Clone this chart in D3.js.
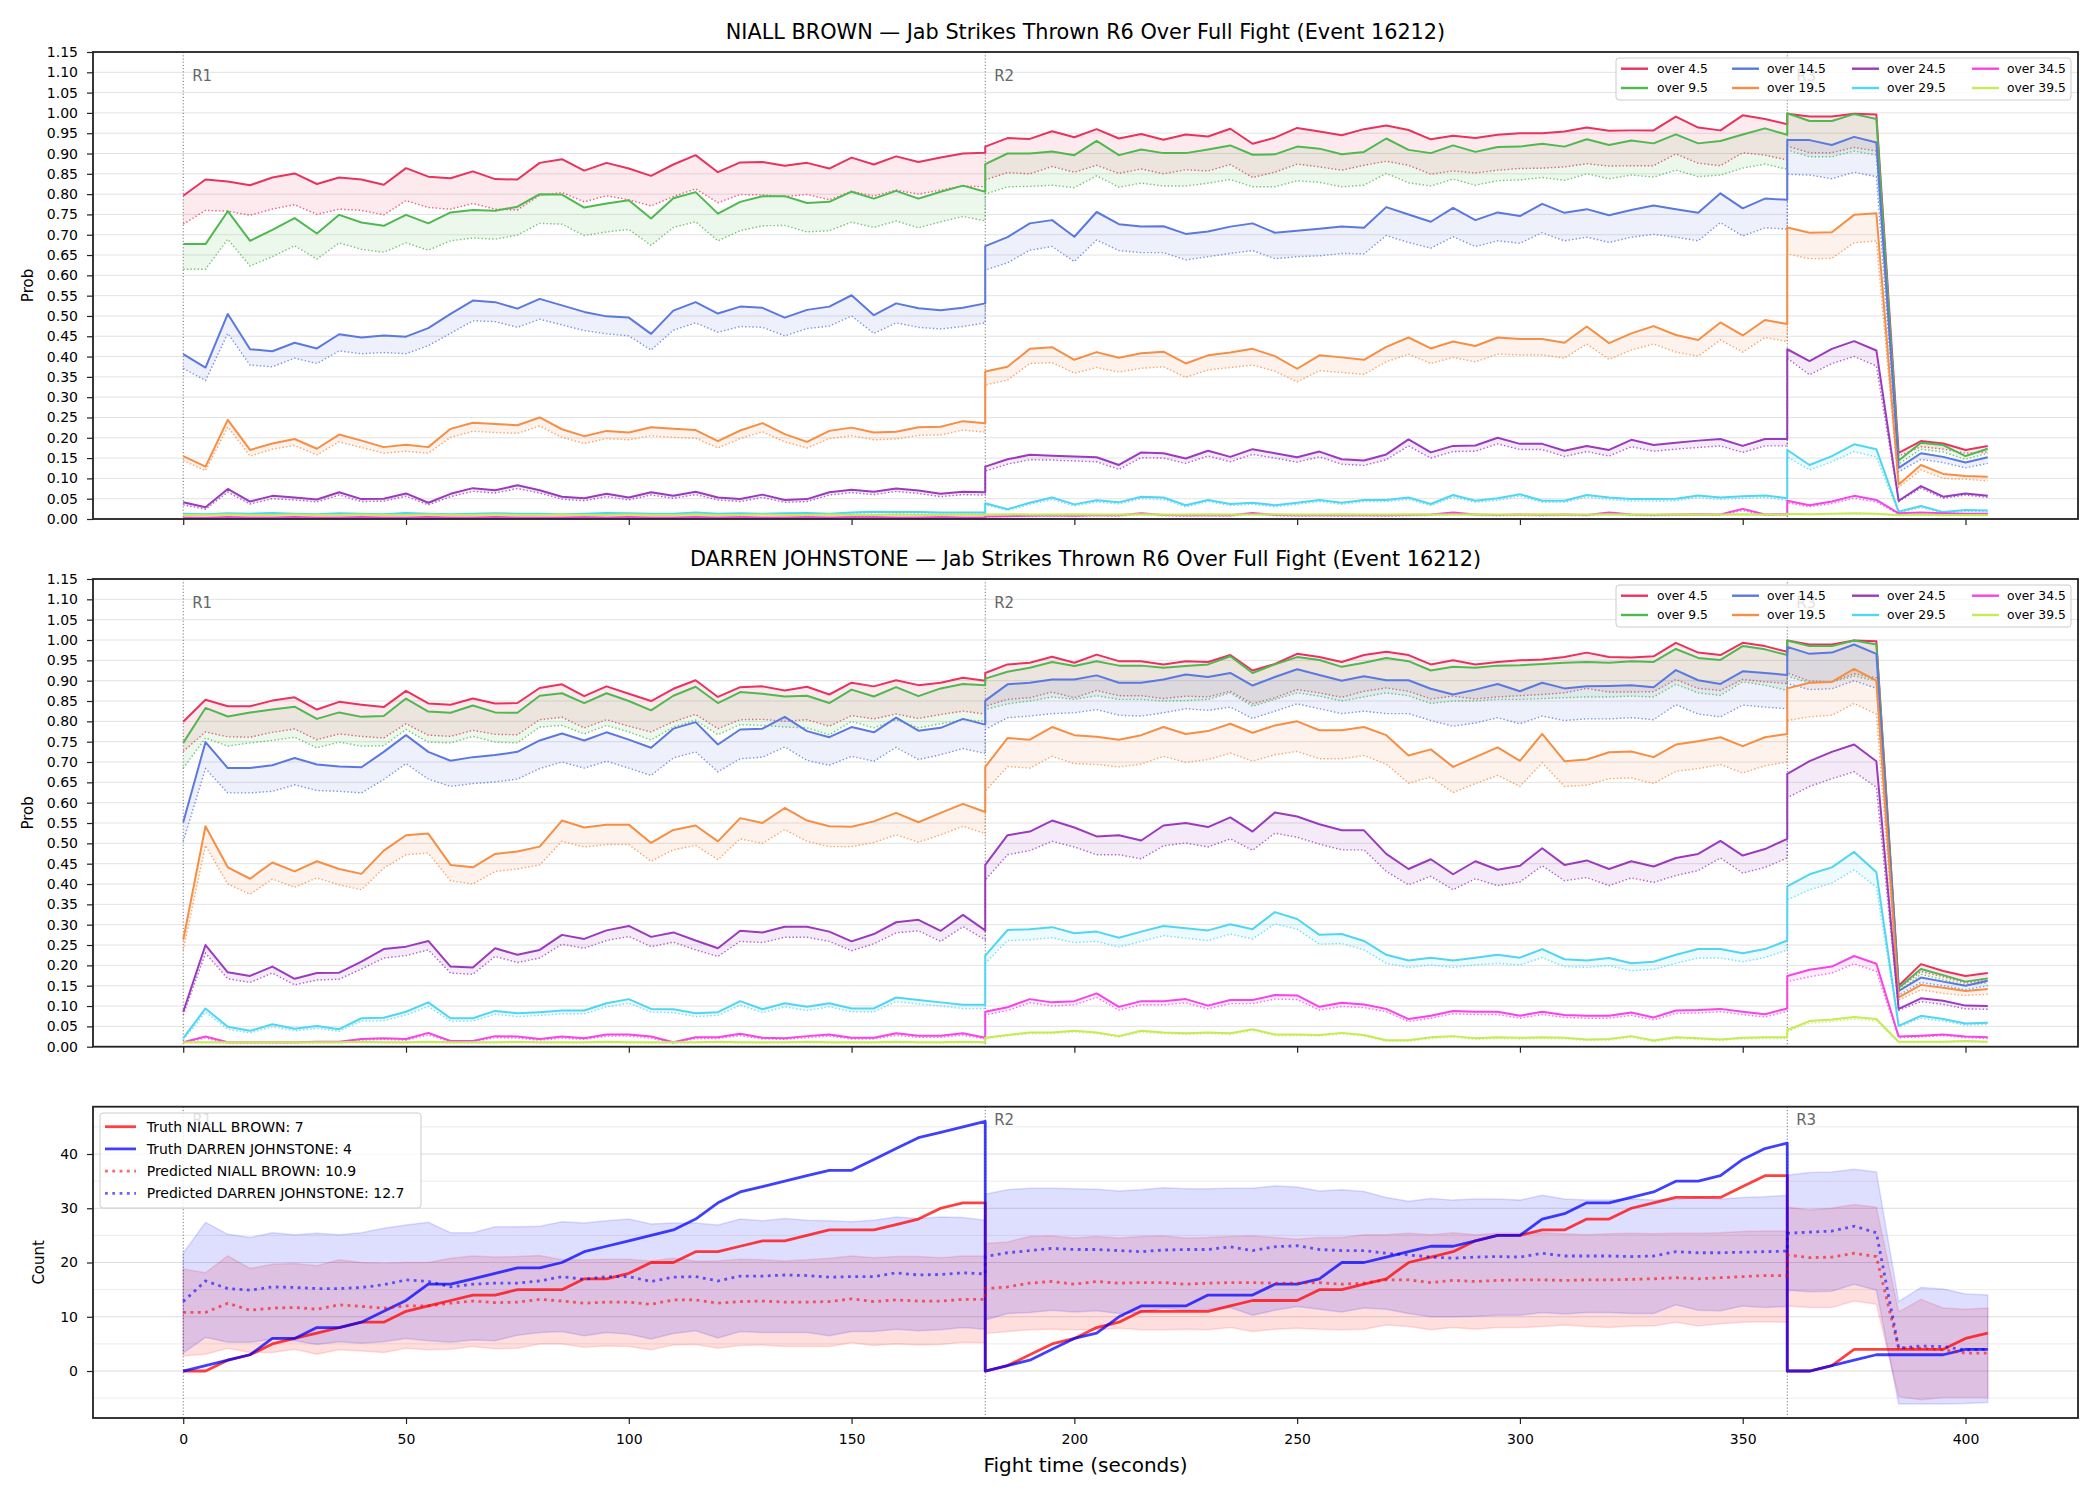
<!DOCTYPE html>
<html>
<head>
<meta charset="utf-8">
<script src="https://cdn.jsdelivr.net/npm/d3@7/dist/d3.min.js"></script>
<style>
  body { margin: 0; background: #fff; }
  svg { display: block; font-family: "DejaVu Sans", sans-serif; }
</style>
</head>
<body>
<svg id="chart" width="2100" height="1500"></svg>
<script>
// time stamps (seconds); round boundaries appear twice (end of one round, start of the next)
const TIME = [
  0,5,10,15,20,25,30,35,40,45,50,55,60,65,70,75,80,85,90,95,100,105,110,115,120,125,130,135,140,145,150,155,160,165,170,175,180,
  180,185,190,195,200,205,210,215,220,225,230,235,240,245,250,255,260,265,270,275,280,285,290,295,300,305,310,315,320,325,330,335,340,345,350,355,360,
  360,365,370,375,380,385,390,395,400,405
];
const ROUND_STARTS = [0, 180, 360];
const ROUND_LABELS = ["R1", "R2", "R3"];
const X_TICKS = [0, 50, 100, 150, 200, 250, 300, 350, 400];
const PROB_TICKS = [0, 0.05, 0.1, 0.15, 0.2, 0.25, 0.3, 0.35, 0.4, 0.45, 0.5, 0.55, 0.6, 0.65, 0.7, 0.75, 0.8, 0.85, 0.9, 0.95, 1.0, 1.05, 1.1, 1.15];
const COUNT_TICKS = [0, 10, 20, 30, 40];
const COUNT_GRID = [-5, 0, 5, 10, 15, 20, 25, 30, 35, 40, 45];

const THRESHOLDS = ["over 4.5", "over 9.5", "over 14.5", "over 19.5", "over 24.5", "over 29.5", "over 34.5", "over 39.5"];
const COLORS = ["#e8335e", "#4fb84f", "#5a78e0", "#f68e44", "#9a3bbd", "#50d6f2", "#f545e6", "#c5eb57"];

// ---- NIALL BROWN: solid = probability, _LO = dotted companion ----
const NB_45 = [
  0.796,0.836,0.831,0.822,0.841,0.851,0.825,0.841,0.836,0.823,0.864,0.843,0.839,0.856,0.837,0.836,0.877,0.886,0.858,0.877,0.863,0.845,0.873,0.896,0.854,0.878,0.879,0.870,0.877,0.863,0.890,0.873,0.893,0.879,0.890,0.900,0.902,
  0.917,0.938,0.936,0.955,0.940,0.960,0.937,0.948,0.934,0.947,0.942,0.961,0.924,0.939,0.963,0.954,0.945,0.960,0.969,0.958,0.935,0.944,0.938,0.946,0.950,0.950,0.954,0.964,0.956,0.957,0.957,0.991,0.964,0.957,0.994,0.985,0.972,
  0.998,0.991,0.991,0.998,0.996,0.163,0.192,0.186,0.170,0.180];
const NB_45_LO = [
  0.726,0.760,0.758,0.748,0.763,0.774,0.750,0.763,0.760,0.749,0.784,0.767,0.763,0.777,0.763,0.761,0.797,0.804,0.781,0.796,0.786,0.771,0.794,0.813,0.779,0.799,0.798,0.794,0.799,0.786,0.807,0.795,0.810,0.800,0.810,0.820,0.818,
  0.835,0.853,0.850,0.868,0.854,0.871,0.851,0.862,0.850,0.860,0.857,0.873,0.841,0.854,0.874,0.867,0.859,0.871,0.881,0.871,0.849,0.857,0.852,0.859,0.863,0.864,0.867,0.875,0.869,0.870,0.870,0.899,0.876,0.870,0.902,0.896,0.884,
  0.918,0.902,0.902,0.915,0.906,0.155,0.178,0.172,0.162,0.165];
const NB_95 = [
  0.677,0.677,0.758,0.685,0.712,0.741,0.703,0.749,0.730,0.722,0.749,0.728,0.755,0.761,0.759,0.769,0.800,0.799,0.767,0.777,0.785,0.740,0.790,0.805,0.752,0.781,0.795,0.795,0.778,0.781,0.806,0.789,0.808,0.789,0.806,0.821,0.806,
  0.874,0.900,0.900,0.905,0.896,0.931,0.896,0.910,0.901,0.901,0.910,0.920,0.897,0.898,0.917,0.912,0.898,0.904,0.937,0.909,0.901,0.920,0.904,0.916,0.917,0.924,0.917,0.935,0.921,0.932,0.925,0.947,0.925,0.931,0.947,0.962,0.946,
  0.999,0.980,0.980,0.997,0.985,0.144,0.188,0.182,0.155,0.173];
const NB_95_LO = [
  0.615,0.615,0.689,0.623,0.646,0.673,0.640,0.680,0.664,0.657,0.680,0.662,0.685,0.692,0.689,0.699,0.728,0.726,0.698,0.707,0.713,0.674,0.718,0.732,0.685,0.710,0.722,0.723,0.707,0.710,0.731,0.718,0.734,0.717,0.732,0.745,0.734,
  0.800,0.818,0.819,0.822,0.816,0.845,0.817,0.827,0.820,0.820,0.827,0.836,0.818,0.818,0.833,0.829,0.818,0.822,0.851,0.828,0.820,0.837,0.822,0.833,0.835,0.841,0.834,0.850,0.838,0.847,0.842,0.859,0.843,0.847,0.864,0.874,0.861,
  0.909,0.892,0.892,0.906,0.896,0.135,0.172,0.165,0.147,0.162];
const NB_145 = [
  0.406,0.373,0.505,0.418,0.413,0.434,0.420,0.455,0.447,0.452,0.449,0.470,0.505,0.538,0.534,0.518,0.542,0.526,0.510,0.499,0.496,0.456,0.513,0.534,0.506,0.523,0.520,0.496,0.515,0.523,0.551,0.502,0.531,0.519,0.514,0.520,0.531,
  0.672,0.694,0.728,0.736,0.695,0.756,0.726,0.720,0.721,0.702,0.708,0.720,0.728,0.705,0.710,0.715,0.720,0.717,0.768,0.750,0.732,0.766,0.736,0.755,0.746,0.776,0.754,0.763,0.748,0.761,0.772,0.763,0.754,0.802,0.765,0.789,0.786,
  0.933,0.933,0.921,0.941,0.927,0.126,0.162,0.153,0.139,0.152];
const NB_145_LO = [
  0.371,0.341,0.457,0.379,0.375,0.396,0.383,0.414,0.407,0.410,0.407,0.427,0.457,0.488,0.486,0.472,0.492,0.478,0.464,0.456,0.451,0.416,0.465,0.483,0.460,0.474,0.472,0.451,0.469,0.475,0.500,0.457,0.483,0.472,0.468,0.474,0.483,
  0.613,0.631,0.662,0.671,0.634,0.687,0.661,0.656,0.656,0.638,0.646,0.654,0.661,0.641,0.646,0.648,0.654,0.653,0.698,0.681,0.667,0.695,0.671,0.685,0.679,0.705,0.685,0.694,0.681,0.694,0.701,0.694,0.685,0.730,0.697,0.717,0.714,
  0.849,0.847,0.838,0.854,0.843,0.116,0.147,0.139,0.126,0.137];
const NB_195 = [
  0.155,0.129,0.244,0.170,0.186,0.197,0.173,0.208,0.193,0.177,0.183,0.177,0.222,0.237,0.234,0.231,0.250,0.221,0.204,0.217,0.213,0.226,0.222,0.219,0.192,0.218,0.236,0.209,0.190,0.217,0.225,0.213,0.215,0.226,0.227,0.241,0.236,
  0.363,0.375,0.419,0.423,0.392,0.411,0.397,0.408,0.412,0.383,0.403,0.410,0.419,0.401,0.370,0.403,0.398,0.392,0.424,0.447,0.420,0.437,0.426,0.447,0.443,0.443,0.434,0.474,0.433,0.457,0.475,0.453,0.441,0.484,0.452,0.490,0.480,
  0.718,0.705,0.706,0.749,0.753,0.085,0.133,0.111,0.106,0.104];
const NB_195_LO = [
  0.144,0.119,0.227,0.155,0.172,0.181,0.158,0.190,0.176,0.162,0.167,0.162,0.201,0.216,0.213,0.211,0.229,0.201,0.186,0.198,0.195,0.205,0.201,0.199,0.175,0.198,0.215,0.190,0.175,0.198,0.205,0.195,0.197,0.206,0.207,0.219,0.214,
  0.330,0.342,0.383,0.385,0.359,0.373,0.362,0.371,0.375,0.349,0.367,0.373,0.379,0.364,0.338,0.365,0.361,0.356,0.387,0.406,0.383,0.398,0.387,0.406,0.404,0.404,0.396,0.431,0.393,0.416,0.431,0.411,0.401,0.441,0.411,0.447,0.437,
  0.653,0.641,0.642,0.680,0.685,0.078,0.121,0.100,0.098,0.094];
const NB_245 = [
  0.041,0.029,0.074,0.043,0.057,0.053,0.048,0.066,0.049,0.050,0.063,0.040,0.062,0.076,0.071,0.083,0.071,0.055,0.051,0.062,0.053,0.066,0.057,0.067,0.053,0.049,0.060,0.047,0.049,0.066,0.072,0.067,0.075,0.070,0.062,0.067,0.066,
  0.129,0.147,0.158,0.156,0.154,0.152,0.133,0.164,0.162,0.149,0.168,0.153,0.172,0.162,0.152,0.166,0.147,0.144,0.159,0.196,0.164,0.180,0.181,0.200,0.185,0.185,0.168,0.180,0.170,0.195,0.182,0.188,0.193,0.197,0.180,0.197,0.197,
  0.418,0.389,0.419,0.438,0.415,0.045,0.081,0.055,0.063,0.057];
const NB_245_LO = [
  0.035,0.024,0.066,0.037,0.050,0.047,0.042,0.059,0.043,0.044,0.056,0.035,0.055,0.068,0.064,0.075,0.064,0.049,0.045,0.055,0.047,0.059,0.051,0.060,0.047,0.043,0.053,0.041,0.043,0.059,0.065,0.060,0.068,0.063,0.055,0.060,0.059,
  0.118,0.135,0.146,0.145,0.143,0.141,0.122,0.151,0.150,0.137,0.155,0.141,0.159,0.150,0.140,0.153,0.135,0.132,0.146,0.180,0.150,0.166,0.167,0.185,0.171,0.171,0.154,0.166,0.155,0.178,0.167,0.172,0.176,0.180,0.164,0.180,0.180,
  0.396,0.355,0.383,0.400,0.377,0.043,0.076,0.051,0.059,0.053];
const NB_295 = [
  0.013,0.012,0.014,0.013,0.015,0.013,0.012,0.014,0.013,0.012,0.015,0.013,0.012,0.013,0.014,0.013,0.013,0.012,0.013,0.015,0.014,0.013,0.013,0.016,0.013,0.014,0.013,0.014,0.015,0.013,0.016,0.018,0.017,0.017,0.016,0.016,0.016,
  0.039,0.024,0.040,0.053,0.036,0.046,0.041,0.055,0.053,0.034,0.047,0.037,0.040,0.034,0.040,0.047,0.040,0.047,0.047,0.053,0.037,0.059,0.045,0.051,0.061,0.045,0.045,0.059,0.053,0.049,0.049,0.050,0.058,0.053,0.056,0.058,0.051,
  0.170,0.133,0.155,0.184,0.172,0.018,0.032,0.017,0.022,0.021];
const NB_295_LO = [
  0.011,0.010,0.012,0.011,0.012,0.011,0.010,0.012,0.011,0.010,0.012,0.011,0.010,0.011,0.012,0.011,0.011,0.010,0.011,0.012,0.012,0.011,0.011,0.013,0.011,0.012,0.011,0.012,0.012,0.011,0.013,0.015,0.014,0.014,0.013,0.013,0.013,
  0.035,0.021,0.036,0.048,0.032,0.042,0.037,0.050,0.048,0.030,0.043,0.033,0.036,0.030,0.036,0.043,0.036,0.043,0.043,0.048,0.033,0.054,0.041,0.046,0.056,0.041,0.041,0.054,0.048,0.044,0.044,0.045,0.053,0.048,0.051,0.053,0.046,
  0.153,0.121,0.141,0.166,0.153,0.015,0.028,0.015,0.019,0.018];
const NB_345 = [
  0.004,0.003,0.005,0.004,0.004,0.005,0.004,0.004,0.005,0.004,0.004,0.005,0.004,0.004,0.005,0.004,0.004,0.004,0.005,0.004,0.005,0.004,0.004,0.005,0.004,0.005,0.004,0.004,0.005,0.004,0.005,0.005,0.004,0.004,0.005,0.004,0.004,
  0.006,0.007,0.008,0.009,0.008,0.010,0.009,0.014,0.010,0.009,0.010,0.009,0.015,0.010,0.009,0.010,0.009,0.010,0.009,0.010,0.011,0.016,0.011,0.010,0.011,0.010,0.011,0.010,0.016,0.011,0.010,0.011,0.012,0.011,0.025,0.011,0.012,
  0.045,0.034,0.043,0.057,0.047,0.014,0.016,0.014,0.013,0.013];
const NB_345_LO = [
  0.003,0.002,0.004,0.003,0.003,0.004,0.003,0.003,0.004,0.003,0.003,0.004,0.003,0.003,0.004,0.003,0.003,0.003,0.004,0.003,0.004,0.003,0.003,0.004,0.003,0.004,0.003,0.003,0.004,0.003,0.004,0.004,0.003,0.003,0.004,0.003,0.003,
  0.005,0.006,0.006,0.007,0.006,0.008,0.007,0.011,0.008,0.007,0.008,0.007,0.012,0.008,0.007,0.008,0.007,0.008,0.007,0.008,0.009,0.013,0.009,0.008,0.009,0.008,0.009,0.008,0.013,0.009,0.008,0.009,0.010,0.009,0.021,0.009,0.010,
  0.040,0.030,0.038,0.051,0.042,0.012,0.014,0.012,0.011,0.011];
const NB_395 = [
  0.010,0.010,0.011,0.010,0.010,0.011,0.010,0.010,0.011,0.010,0.010,0.011,0.010,0.010,0.011,0.010,0.010,0.011,0.010,0.010,0.011,0.010,0.010,0.011,0.010,0.010,0.011,0.010,0.010,0.011,0.010,0.010,0.011,0.010,0.010,0.011,0.010,
  0.011,0.012,0.011,0.011,0.012,0.011,0.011,0.012,0.011,0.011,0.012,0.011,0.011,0.012,0.011,0.011,0.012,0.011,0.011,0.012,0.011,0.011,0.012,0.011,0.011,0.012,0.011,0.011,0.012,0.011,0.011,0.012,0.011,0.011,0.012,0.011,0.011,
  0.013,0.012,0.013,0.014,0.013,0.010,0.011,0.010,0.010,0.010];
const NB_395_LO = [
  0.008,0.008,0.009,0.008,0.008,0.009,0.008,0.008,0.009,0.008,0.008,0.009,0.008,0.008,0.009,0.008,0.008,0.009,0.008,0.008,0.009,0.008,0.008,0.009,0.008,0.008,0.009,0.008,0.008,0.009,0.008,0.008,0.009,0.008,0.008,0.009,0.008,
  0.009,0.010,0.009,0.009,0.010,0.009,0.009,0.010,0.009,0.009,0.010,0.009,0.009,0.010,0.009,0.009,0.010,0.009,0.009,0.010,0.009,0.009,0.010,0.009,0.009,0.010,0.009,0.009,0.010,0.009,0.009,0.010,0.009,0.009,0.010,0.009,0.009,
  0.011,0.010,0.011,0.012,0.011,0.008,0.009,0.008,0.008,0.008];

// ---- DARREN JOHNSTONE ----
const DJ_45 = [
  0.799,0.853,0.837,0.837,0.851,0.859,0.829,0.848,0.841,0.835,0.875,0.844,0.841,0.856,0.844,0.845,0.882,0.891,0.862,0.886,0.868,0.850,0.880,0.901,0.860,0.884,0.886,0.876,0.885,0.866,0.895,0.886,0.901,0.889,0.895,0.907,0.900,
  0.919,0.940,0.944,0.959,0.944,0.964,0.948,0.948,0.940,0.948,0.946,0.963,0.925,0.941,0.966,0.958,0.946,0.963,0.971,0.963,0.940,0.950,0.940,0.946,0.950,0.952,0.958,0.969,0.958,0.957,0.960,0.993,0.969,0.963,0.993,0.985,0.971,
  0.999,0.989,0.989,0.999,0.997,0.150,0.203,0.186,0.174,0.181];
const DJ_45_LO = [
  0.726,0.774,0.762,0.761,0.773,0.781,0.755,0.769,0.763,0.759,0.794,0.766,0.763,0.778,0.768,0.767,0.804,0.810,0.784,0.804,0.788,0.774,0.799,0.817,0.782,0.804,0.805,0.800,0.804,0.788,0.814,0.806,0.818,0.807,0.817,0.825,0.818,
  0.837,0.854,0.858,0.872,0.858,0.876,0.863,0.863,0.856,0.862,0.860,0.874,0.843,0.858,0.878,0.870,0.859,0.874,0.882,0.874,0.855,0.862,0.855,0.860,0.863,0.866,0.870,0.881,0.872,0.872,0.873,0.903,0.881,0.876,0.903,0.897,0.893,
  0.919,0.899,0.897,0.917,0.907,0.142,0.185,0.172,0.156,0.164];
const DJ_95 = [
  0.747,0.833,0.812,0.822,0.829,0.836,0.806,0.822,0.811,0.813,0.856,0.824,0.821,0.839,0.822,0.821,0.863,0.869,0.845,0.869,0.850,0.827,0.863,0.885,0.845,0.872,0.868,0.861,0.863,0.845,0.878,0.861,0.884,0.862,0.881,0.892,0.889,
  0.905,0.922,0.932,0.946,0.936,0.948,0.937,0.937,0.932,0.936,0.940,0.960,0.919,0.940,0.958,0.951,0.934,0.944,0.956,0.948,0.925,0.934,0.932,0.937,0.938,0.941,0.944,0.946,0.944,0.948,0.946,0.978,0.956,0.951,0.985,0.977,0.963,
  0.999,0.985,0.985,0.999,0.989,0.145,0.191,0.176,0.160,0.168];
const DJ_95_LO = [
  0.685,0.759,0.739,0.747,0.753,0.761,0.735,0.749,0.739,0.740,0.780,0.749,0.747,0.763,0.749,0.747,0.786,0.790,0.769,0.790,0.774,0.754,0.786,0.803,0.767,0.792,0.790,0.786,0.784,0.767,0.800,0.784,0.804,0.784,0.794,0.804,0.800,
  0.829,0.843,0.850,0.860,0.854,0.863,0.854,0.854,0.850,0.851,0.854,0.870,0.837,0.854,0.870,0.862,0.850,0.860,0.870,0.863,0.844,0.850,0.850,0.854,0.854,0.856,0.858,0.860,0.860,0.862,0.860,0.891,0.870,0.864,0.897,0.889,0.876,
  0.911,0.895,0.897,0.911,0.900,0.135,0.178,0.165,0.150,0.158];
const DJ_145 = [
  0.552,0.749,0.685,0.685,0.692,0.710,0.694,0.689,0.687,0.725,0.766,0.725,0.703,0.712,0.717,0.725,0.753,0.770,0.753,0.773,0.755,0.735,0.782,0.798,0.743,0.780,0.782,0.811,0.776,0.761,0.786,0.773,0.809,0.777,0.784,0.806,0.792,
  0.851,0.891,0.895,0.903,0.903,0.913,0.895,0.895,0.903,0.915,0.909,0.919,0.888,0.909,0.928,0.914,0.900,0.911,0.901,0.901,0.880,0.866,0.878,0.892,0.874,0.895,0.881,0.886,0.887,0.889,0.884,0.926,0.901,0.892,0.923,0.919,0.914,
  0.983,0.966,0.969,0.989,0.966,0.137,0.170,0.160,0.150,0.162];
const DJ_145_LO = [
  0.505,0.684,0.624,0.624,0.628,0.644,0.630,0.628,0.624,0.657,0.696,0.658,0.640,0.647,0.651,0.658,0.684,0.700,0.685,0.702,0.685,0.667,0.710,0.725,0.676,0.708,0.712,0.737,0.704,0.692,0.714,0.702,0.736,0.706,0.718,0.733,0.721,
  0.780,0.809,0.813,0.819,0.821,0.829,0.815,0.813,0.821,0.831,0.827,0.835,0.807,0.825,0.843,0.831,0.819,0.825,0.819,0.819,0.802,0.788,0.796,0.809,0.794,0.813,0.802,0.806,0.806,0.809,0.804,0.841,0.818,0.811,0.840,0.835,0.831,
  0.893,0.878,0.880,0.900,0.881,0.127,0.158,0.150,0.140,0.150];
const DJ_195 = [
  0.263,0.542,0.441,0.413,0.453,0.431,0.456,0.437,0.425,0.482,0.520,0.524,0.447,0.441,0.474,0.480,0.492,0.556,0.539,0.546,0.546,0.501,0.533,0.544,0.505,0.562,0.550,0.587,0.556,0.542,0.541,0.554,0.575,0.552,0.575,0.597,0.577,
  0.688,0.759,0.755,0.786,0.766,0.762,0.755,0.766,0.786,0.769,0.776,0.794,0.772,0.790,0.800,0.778,0.778,0.786,0.766,0.716,0.731,0.688,0.712,0.736,0.703,0.769,0.702,0.706,0.724,0.726,0.712,0.743,0.751,0.761,0.739,0.761,0.769,
  0.881,0.895,0.897,0.929,0.900,0.121,0.152,0.145,0.137,0.142];
const DJ_195_LO = [
  0.238,0.495,0.400,0.375,0.412,0.392,0.415,0.398,0.386,0.439,0.472,0.476,0.408,0.400,0.431,0.437,0.447,0.505,0.491,0.497,0.497,0.456,0.484,0.495,0.460,0.511,0.500,0.534,0.505,0.492,0.492,0.502,0.521,0.503,0.521,0.542,0.524,
  0.628,0.689,0.685,0.714,0.696,0.694,0.688,0.695,0.714,0.699,0.706,0.722,0.702,0.718,0.726,0.708,0.708,0.716,0.695,0.648,0.663,0.625,0.647,0.667,0.640,0.698,0.640,0.643,0.659,0.661,0.647,0.677,0.684,0.694,0.673,0.691,0.700,
  0.802,0.811,0.815,0.844,0.818,0.115,0.140,0.131,0.126,0.129];
const DJ_245 = [
  0.086,0.250,0.183,0.174,0.197,0.167,0.181,0.182,0.209,0.240,0.246,0.260,0.197,0.195,0.242,0.226,0.238,0.275,0.265,0.286,0.297,0.270,0.281,0.261,0.242,0.285,0.281,0.295,0.295,0.283,0.259,0.277,0.306,0.312,0.285,0.324,0.286,
  0.447,0.520,0.529,0.556,0.539,0.517,0.520,0.507,0.544,0.550,0.540,0.564,0.529,0.576,0.566,0.547,0.532,0.532,0.474,0.437,0.461,0.424,0.456,0.435,0.445,0.488,0.447,0.458,0.437,0.456,0.443,0.464,0.474,0.506,0.470,0.486,0.511,
  0.671,0.702,0.725,0.743,0.702,0.093,0.119,0.113,0.101,0.100];
const DJ_245_LO = [
  0.078,0.230,0.167,0.158,0.181,0.152,0.164,0.166,0.191,0.218,0.224,0.238,0.181,0.178,0.222,0.207,0.218,0.252,0.242,0.261,0.271,0.246,0.257,0.238,0.222,0.259,0.256,0.269,0.269,0.259,0.236,0.253,0.280,0.285,0.259,0.295,0.263,
  0.410,0.472,0.482,0.505,0.491,0.472,0.472,0.462,0.494,0.501,0.491,0.511,0.483,0.525,0.515,0.498,0.484,0.484,0.431,0.398,0.419,0.386,0.413,0.396,0.405,0.445,0.408,0.416,0.396,0.415,0.404,0.421,0.433,0.464,0.427,0.441,0.464,
  0.612,0.640,0.659,0.676,0.638,0.089,0.111,0.104,0.093,0.092];
const DJ_295 = [
  0.021,0.094,0.049,0.039,0.055,0.044,0.051,0.043,0.070,0.071,0.086,0.109,0.070,0.070,0.088,0.082,0.085,0.089,0.089,0.107,0.117,0.093,0.092,0.082,0.085,0.112,0.092,0.107,0.098,0.107,0.094,0.094,0.121,0.115,0.109,0.103,0.103,
  0.224,0.287,0.289,0.294,0.279,0.283,0.268,0.283,0.297,0.291,0.286,0.301,0.289,0.331,0.314,0.275,0.277,0.260,0.226,0.212,0.219,0.212,0.219,0.226,0.219,0.240,0.215,0.212,0.218,0.205,0.209,0.226,0.240,0.240,0.230,0.240,0.261,
  0.394,0.424,0.441,0.479,0.429,0.051,0.076,0.068,0.057,0.059];
const DJ_295_LO = [
  0.017,0.085,0.043,0.034,0.049,0.039,0.045,0.038,0.063,0.064,0.078,0.099,0.063,0.063,0.080,0.074,0.077,0.081,0.081,0.098,0.107,0.085,0.084,0.074,0.077,0.102,0.084,0.098,0.089,0.098,0.086,0.086,0.111,0.105,0.100,0.094,0.094,
  0.205,0.261,0.263,0.268,0.256,0.259,0.245,0.259,0.273,0.267,0.261,0.277,0.265,0.302,0.289,0.252,0.254,0.238,0.205,0.195,0.201,0.195,0.201,0.205,0.201,0.219,0.197,0.195,0.199,0.187,0.190,0.205,0.218,0.218,0.209,0.219,0.238,
  0.361,0.386,0.402,0.435,0.392,0.049,0.070,0.063,0.053,0.055];
const DJ_345 = [
  0.011,0.025,0.011,0.011,0.011,0.011,0.012,0.012,0.019,0.021,0.019,0.034,0.014,0.014,0.026,0.025,0.019,0.025,0.021,0.030,0.030,0.025,0.011,0.023,0.023,0.032,0.022,0.021,0.026,0.030,0.022,0.022,0.033,0.027,0.027,0.033,0.022,
  0.086,0.097,0.117,0.109,0.112,0.131,0.098,0.112,0.112,0.117,0.101,0.115,0.115,0.127,0.126,0.098,0.108,0.104,0.093,0.068,0.076,0.088,0.086,0.086,0.076,0.086,0.078,0.076,0.076,0.084,0.072,0.089,0.090,0.093,0.086,0.080,0.094,
  0.174,0.189,0.197,0.223,0.204,0.025,0.027,0.030,0.025,0.023];
const DJ_345_LO = [
  0.009,0.021,0.009,0.009,0.009,0.009,0.010,0.010,0.016,0.018,0.016,0.029,0.012,0.012,0.022,0.021,0.016,0.021,0.018,0.026,0.026,0.021,0.009,0.020,0.020,0.027,0.019,0.018,0.022,0.026,0.019,0.019,0.028,0.023,0.023,0.028,0.019,
  0.078,0.089,0.108,0.100,0.103,0.121,0.090,0.103,0.103,0.108,0.093,0.106,0.106,0.117,0.116,0.090,0.099,0.096,0.086,0.062,0.070,0.081,0.079,0.079,0.070,0.079,0.072,0.070,0.070,0.077,0.066,0.082,0.083,0.086,0.079,0.073,0.087,
  0.160,0.172,0.181,0.204,0.185,0.022,0.024,0.027,0.022,0.020];
const DJ_395 = [
  0.011,0.011,0.011,0.011,0.011,0.011,0.011,0.011,0.012,0.011,0.011,0.012,0.011,0.011,0.011,0.012,0.011,0.011,0.011,0.012,0.011,0.011,0.011,0.011,0.012,0.011,0.011,0.011,0.012,0.011,0.011,0.011,0.012,0.011,0.011,0.012,0.011,
  0.022,0.029,0.035,0.035,0.039,0.035,0.026,0.039,0.035,0.033,0.035,0.033,0.043,0.030,0.030,0.029,0.034,0.029,0.016,0.016,0.023,0.026,0.021,0.023,0.022,0.023,0.022,0.018,0.019,0.026,0.015,0.023,0.021,0.018,0.022,0.023,0.023,
  0.041,0.063,0.067,0.073,0.068,0.012,0.012,0.012,0.014,0.012];
const DJ_395_LO = [
  0.009,0.009,0.009,0.009,0.009,0.009,0.009,0.009,0.010,0.009,0.009,0.010,0.009,0.009,0.009,0.010,0.009,0.009,0.009,0.010,0.009,0.009,0.009,0.009,0.010,0.009,0.009,0.009,0.010,0.009,0.009,0.009,0.010,0.009,0.009,0.010,0.009,
  0.019,0.026,0.032,0.032,0.036,0.032,0.023,0.036,0.032,0.030,0.032,0.030,0.040,0.027,0.027,0.026,0.031,0.026,0.013,0.013,0.020,0.023,0.018,0.020,0.019,0.020,0.019,0.015,0.016,0.023,0.012,0.020,0.018,0.015,0.019,0.020,0.020,
  0.037,0.058,0.062,0.068,0.063,0.010,0.010,0.010,0.012,0.010];

// ---- cumulative counts ----
const TRUTH_NB = [
  0,0,2,3,5,6,7,8,9,9,11,12,13,14,14,15,15,15,17,17,18,20,20,22,22,23,24,24,25,26,26,26,27,28,30,31,31,
  0,1,3,5,6,8,9,11,11,11,11,12,13,13,13,15,15,16,17,20,21,22,24,25,25,26,26,28,28,30,31,32,32,32,34,36,36,
  0,0,1,4,4,4,4,4,6,7];
const TRUTH_DJ = [
  0,1,2,3,6,6,8,8,9,11,13,16,16,17,18,19,19,20,22,23,24,25,26,28,31,33,34,35,36,37,37,39,41,43,44,45,46,
  0,1,2,4,6,7,10,12,12,12,14,14,14,16,16,17,20,20,21,22,23,23,24,25,25,28,29,31,31,32,33,35,35,36,39,41,42,
  0,0,1,2,3,3,3,3,4,4];
const PRED_NB = [
  10.8,10.8,12.5,11.2,11.6,11.7,11.4,12.2,11.9,11.6,12.0,12.0,12.5,12.9,12.6,12.7,13.2,12.9,12.5,12.7,12.7,12.3,13.1,13.1,12.5,12.8,12.9,12.7,12.7,12.8,13.3,12.8,13.1,12.9,12.9,13.2,13.2,
  15.2,15.5,16.2,16.5,16.0,16.5,16.2,16.3,16.3,16.0,16.2,16.3,16.3,16.2,16.2,16.3,16.0,16.2,16.8,16.8,16.3,16.7,16.5,16.7,16.8,16.8,16.7,16.8,16.8,16.9,17.0,17.2,17.0,17.2,17.4,17.6,17.6,
  21.4,20.9,21.0,21.7,21.1,4.2,4.2,3.9,3.3,3.3];
const PRED_DJ = [
  12.8,16.6,15.2,14.9,15.5,15.4,15.2,15.2,15.4,15.9,16.8,16.5,15.5,16.0,16.2,16.2,16.6,17.4,16.9,17.4,17.4,16.5,17.3,17.4,16.6,17.5,17.5,17.7,17.6,17.3,17.4,17.4,18.1,17.7,17.8,18.1,17.9,
  21.1,21.8,22.2,22.6,22.4,22.4,22.2,22.0,22.3,22.4,22.4,22.9,22.2,22.9,23.1,22.4,22.2,22.2,21.7,21.4,21.0,20.8,21.0,21.1,21.0,21.7,21.2,21.2,21.2,21.1,21.2,22.0,21.8,21.8,21.9,22.0,22.1,
  25.4,25.6,25.8,26.7,25.5,4.2,4.6,4.5,3.9,4.0];
const BAND_NB_LO = [
  2.8,3.1,4.2,3.4,3.4,4.0,3.1,3.9,3.7,3.4,4.2,3.9,4.0,4.5,4.1,4.2,5.0,5.0,4.4,4.6,4.5,3.9,4.8,4.9,4.2,4.7,4.8,4.5,4.5,4.5,5.2,4.7,5.0,4.8,4.9,5.3,5.2,
  6.9,7.3,7.6,7.7,7.6,7.6,7.9,7.6,7.6,7.7,7.6,8.0,7.3,7.7,7.9,7.7,7.6,7.7,8.5,8.2,7.6,8.0,7.7,8.0,8.0,8.2,8.5,8.2,8.0,8.3,8.3,9.0,8.3,8.7,9.0,9.1,9.0,
  12.0,11.7,11.7,12.9,12.3,-4.7,-5.3,-4.9,-4.9,-4.9];
const BAND_NB_HI = [
  18.8,18.1,21.2,18.9,19.7,19.8,19.4,20.5,20.0,19.8,20.0,20.0,20.8,21.2,21.0,21.1,21.3,20.5,20.5,20.6,20.6,20.3,20.8,20.3,20.3,20.6,20.5,20.3,20.5,20.8,21.2,20.9,21.1,21.1,20.9,21.2,21.2,
  23.5,23.8,24.8,24.9,24.5,24.8,24.5,24.8,24.9,24.5,24.6,24.8,24.9,24.6,24.3,24.6,24.6,25.1,25.1,25.4,25.1,25.5,25.1,25.4,25.4,25.5,25.3,25.1,25.3,25.4,25.3,25.4,25.4,25.5,25.7,25.8,25.8,
  30.2,29.7,30.0,30.7,30.2,10.9,13.2,11.6,11.4,11.6];
const BAND_DJ_LO = [
  3.3,6.2,5.3,5.3,5.9,5.6,4.9,5.4,5.1,5.4,6.0,5.6,5.3,5.7,5.6,6.6,7.1,7.3,6.5,7.1,6.8,5.9,6.9,7.4,6.1,7.3,7.1,7.1,7.1,6.5,7.3,7.3,7.7,7.4,7.6,8.0,7.7,
  9.4,10.6,10.8,11.2,10.9,11.1,10.6,10.8,11.6,11.2,11.4,11.7,10.3,11.2,11.9,11.4,10.9,11.6,11.4,10.6,10.0,10.0,10.1,10.3,10.3,10.8,10.5,10.8,10.8,10.6,10.6,12.2,11.2,11.1,12.0,11.7,11.9,
  14.9,14.6,14.7,16.0,14.9,-6.1,-6.1,-6.1,-6.0,-5.8];
const BAND_DJ_HI = [
  21.7,27.4,25.2,24.6,25.5,25.1,25.4,25.1,25.5,26.3,26.9,27.4,25.5,25.5,26.6,26.6,26.7,27.5,27.3,27.7,28.0,27.1,27.3,27.3,26.9,28.0,27.7,28.1,27.8,27.7,27.5,27.8,28.4,28.1,28.4,28.3,27.8,
  32.6,33.4,33.7,33.7,33.6,33.5,33.2,33.4,33.8,33.6,33.6,33.7,33.7,34.1,33.9,33.2,33.4,33.1,32.0,31.3,31.8,31.5,31.7,31.7,31.5,32.4,31.7,31.5,31.5,31.7,31.5,31.6,32.0,31.7,32.0,32.1,32.4,
  36.1,36.6,36.7,37.2,36.7,12.8,15.4,15.1,14.2,14.0];

const COUNT_LEGEND = ["Truth NIALL BROWN: 7", "Truth DARREN JOHNSTONE: 4", "Predicted NIALL BROWN: 10.9", "Predicted DARREN JOHNSTONE: 12.7"];

const PROB_PANELS = [
  { title: "NIALL BROWN \u2014 Jab Strikes Thrown R6 Over Full Fight (Event 16212)", top: 52, bottom: 519,
    series: [[NB_45, NB_45_LO], [NB_95, NB_95_LO], [NB_145, NB_145_LO], [NB_195, NB_195_LO], [NB_245, NB_245_LO], [NB_295, NB_295_LO], [NB_345, NB_345_LO], [NB_395, NB_395_LO]] },
  { title: "DARREN JOHNSTONE \u2014 Jab Strikes Thrown R6 Over Full Fight (Event 16212)", top: 579, bottom: 1046.7,
    series: [[DJ_45, DJ_45_LO], [DJ_95, DJ_95_LO], [DJ_145, DJ_145_LO], [DJ_195, DJ_195_LO], [DJ_245, DJ_245_LO], [DJ_295, DJ_295_LO], [DJ_345, DJ_345_LO], [DJ_395, DJ_395_LO]] }
];
const COUNT_PANEL = { top: 1106.7, bottom: 1418, domain: [-8.66, 48.72] };

const LEFT = 93;
const RIGHT = 2078;
const svg = d3.select("#chart");
const x = d3.scaleLinear().domain([-20.25, 425.25]).range([LEFT, RIGHT]);

checkLengths();
PROB_PANELS.forEach((panel, i) => drawProbPanel(panel, i));
drawCountPanel();

function checkLengths() {
  const named = { NB_45, NB_45_LO, NB_95, NB_95_LO, NB_145, NB_145_LO, NB_195, NB_195_LO, NB_245, NB_245_LO, NB_295, NB_295_LO,
    NB_345, NB_345_LO, NB_395, NB_395_LO, DJ_45, DJ_45_LO, DJ_95, DJ_95_LO, DJ_145, DJ_145_LO, DJ_195, DJ_195_LO, DJ_245, DJ_245_LO,
    DJ_295, DJ_295_LO, DJ_345, DJ_345_LO, DJ_395, DJ_395_LO, TRUTH_NB, TRUTH_DJ, PRED_NB, PRED_DJ, BAND_NB_LO, BAND_NB_HI, BAND_DJ_LO, BAND_DJ_HI };
  const bad = Object.entries(named).filter(([, arr]) => arr.length !== TIME.length).map(([k, arr]) => `${k}:${arr.length}`);
  if (bad.length) {
    svg.append("text").attr("x", 20).attr("y", 1495).attr("fill", "red").attr("font-size", 14).text("LENGTH " + TIME.length + " " + bad.join(" "));
  }
}

function frame(g, top, bottom) {
  g.append("rect")
    .attr("x", LEFT).attr("y", top)
    .attr("width", RIGHT - LEFT).attr("height", bottom - top)
    .attr("fill", "none").attr("stroke", "#222").attr("stroke-width", 1.8);
}

function styleAxis(axisG) {
  axisG.select(".domain").remove();
  axisG.selectAll(".tick line").attr("stroke", "#222").attr("stroke-width", 1.2);
  axisG.selectAll(".tick text").attr("fill", "#000").attr("font-size", 14).attr("font-family", "DejaVu Sans, sans-serif");
}

function roundMarkers(g, y, top, bottom, yMax) {
  g.selectAll("line.round").data(ROUND_STARTS).join("line")
    .attr("class", "round")
    .attr("x1", (d) => x(d)).attr("x2", (d) => x(d))
    .attr("y1", top).attr("y2", bottom)
    .attr("stroke", "#777").attr("stroke-width", 1).attr("stroke-dasharray", "1.2,2");
  g.selectAll("text.round").data(ROUND_STARTS).join("text")
    .attr("class", "round")
    .attr("x", (d) => x(d + 2))
    .attr("y", y(yMax * 0.95))
    .attr("dy", "0.36em")
    .attr("font-size", 15)
    .attr("fill", "#666")
    .text((d, i) => ROUND_LABELS[i]);
}

function drawProbPanel(panel, index) {
  const { top, bottom } = panel;
  const y = d3.scaleLinear().domain([0, 1.15]).range([bottom, top]);
  const g = svg.append("g");
  const clipId = `clip-prob-${index}`;
  svg.append("clipPath").attr("id", clipId)
    .append("rect").attr("x", LEFT).attr("y", top).attr("width", RIGHT - LEFT).attr("height", bottom - top);

  g.selectAll("line.grid").data(PROB_TICKS).join("line")
    .attr("class", "grid")
    .attr("x1", LEFT).attr("x2", RIGHT)
    .attr("y1", (d) => y(d)).attr("y2", (d) => y(d))
    .attr("stroke", "#e3e3e3").attr("stroke-width", 1);

  roundMarkers(g, y, top, bottom, 1.15);

  const plot = g.append("g").attr("clip-path", `url(#${clipId})`);
  const line = d3.line().x((d, i) => x(TIME[i])).y((d) => y(d));
  const area = (hi, lo) => d3.area().x((d, i) => x(TIME[i])).y0((d, i) => y(lo[i])).y1((d, i) => y(hi[i]))(hi);

  panel.series.forEach(([hi, lo], k) => {
    plot.append("path").attr("d", area(hi, lo)).attr("fill", COLORS[k]).attr("fill-opacity", 0.1);
    plot.append("path").attr("d", line(hi)).attr("fill", "none")
      .attr("stroke", COLORS[k]).attr("stroke-width", 2).attr("stroke-linejoin", "round");
    plot.append("path").attr("d", line(lo)).attr("fill", "none")
      .attr("stroke", COLORS[k]).attr("stroke-opacity", 0.8).attr("stroke-width", 1.4)
      .attr("stroke-dasharray", "1.4,2.2");
  });

  const yAxis = g.append("g").attr("transform", `translate(${LEFT},0)`)
    .call(d3.axisLeft(y).tickValues(PROB_TICKS).tickFormat(d3.format(".2f")).tickSize(6).tickPadding(9));
  styleAxis(yAxis);
  const xAxis = g.append("g").attr("transform", `translate(0,${bottom})`)
    .call(d3.axisBottom(x).tickValues(X_TICKS).tickFormat("").tickSize(6));
  styleAxis(xAxis);

  frame(g, top, bottom);

  g.append("text")
    .attr("x", (LEFT + RIGHT) / 2).attr("y", top - 12.7)
    .attr("text-anchor", "middle").attr("font-size", 20.8).attr("fill", "#000")
    .text(panel.title);
  g.append("text")
    .attr("transform", `translate(33,${(top + bottom) / 2}) rotate(-90)`)
    .attr("text-anchor", "middle").attr("font-size", 15).attr("fill", "#000")
    .text("Prob");

  // legend, 4 columns x 2 rows
  const lg = g.append("g");
  lg.append("rect").attr("x", 1616).attr("y", top + 6).attr("width", 455).attr("height", 42).attr("rx", 3)
    .attr("fill", "#fff").attr("fill-opacity", 0.8).attr("stroke", "#cccccc").attr("stroke-width", 1);
  const colHandle = [1621, 1732, 1852, 1972];
  const colText = [1657, 1767, 1887, 2007];
  THRESHOLDS.forEach((label, k) => {
    const col = Math.floor(k / 2);
    const row = k % 2;
    const yy = top + 16.7 + row * 19.3;
    lg.append("line").attr("x1", colHandle[col]).attr("x2", colHandle[col] + 27)
      .attr("y1", yy).attr("y2", yy).attr("stroke", COLORS[k]).attr("stroke-width", 2.4);
    lg.append("text").attr("x", colText[col]).attr("y", yy).attr("dy", "0.36em")
      .attr("font-size", 12.3).attr("fill", "#000").text(label);
  });
}

function drawCountPanel() {
  const { top, bottom, domain } = COUNT_PANEL;
  const y = d3.scaleLinear().domain(domain).range([bottom, top]);
  const g = svg.append("g");
  svg.append("clipPath").attr("id", "clip-count")
    .append("rect").attr("x", LEFT).attr("y", top).attr("width", RIGHT - LEFT).attr("height", bottom - top);

  g.selectAll("line.grid").data(COUNT_GRID).join("line")
    .attr("class", "grid")
    .attr("x1", LEFT).attr("x2", RIGHT)
    .attr("y1", (d) => y(d)).attr("y2", (d) => y(d))
    .attr("stroke", (d) => (d % 10 === 0 ? "#dcdcdc" : "#ececec")).attr("stroke-width", 1);

  roundMarkers(g, y, top, bottom, domain[1]);

  const plot = g.append("g").attr("clip-path", "url(#clip-count)");
  const line = d3.line().x((d, i) => x(TIME[i])).y((d) => y(d));
  const band = (lo, hi) => d3.area().x((d, i) => x(TIME[i])).y0((d, i) => y(lo[i])).y1((d, i) => y(hi[i]))(lo);

  plot.append("path").attr("d", band(BAND_NB_LO, BAND_NB_HI))
    .attr("fill", "#ff0000").attr("fill-opacity", 0.13)
    .attr("stroke", "#ff0000").attr("stroke-opacity", 0.13).attr("stroke-width", 1.5);
  plot.append("path").attr("d", band(BAND_DJ_LO, BAND_DJ_HI))
    .attr("fill", "#0000ff").attr("fill-opacity", 0.13)
    .attr("stroke", "#0000ff").attr("stroke-opacity", 0.13).attr("stroke-width", 1.5);

  plot.append("path").attr("d", line(TRUTH_NB)).attr("fill", "none")
    .attr("stroke", "#ff0000").attr("stroke-opacity", 0.75).attr("stroke-width", 2.8).attr("stroke-linejoin", "round");
  plot.append("path").attr("d", line(TRUTH_DJ)).attr("fill", "none")
    .attr("stroke", "#0000ff").attr("stroke-opacity", 0.75).attr("stroke-width", 2.8).attr("stroke-linejoin", "round");
  plot.append("path").attr("d", line(PRED_NB)).attr("fill", "none")
    .attr("stroke", "#ff0000").attr("stroke-opacity", 0.6).attr("stroke-width", 2.8).attr("stroke-dasharray", "2.8,4.5");
  plot.append("path").attr("d", line(PRED_DJ)).attr("fill", "none")
    .attr("stroke", "#0000ff").attr("stroke-opacity", 0.6).attr("stroke-width", 2.8).attr("stroke-dasharray", "2.8,4.5");

  const yAxis = g.append("g").attr("transform", `translate(${LEFT},0)`)
    .call(d3.axisLeft(y).tickValues(COUNT_TICKS).tickFormat(d3.format("d")).tickSize(6).tickPadding(9));
  styleAxis(yAxis);
  const xAxis = g.append("g").attr("transform", `translate(0,${bottom})`)
    .call(d3.axisBottom(x).tickValues(X_TICKS).tickFormat(d3.format("d")).tickSize(6).tickPadding(10));
  styleAxis(xAxis);

  frame(g, top, bottom);

  g.append("text")
    .attr("transform", `translate(44,${(top + bottom) / 2}) rotate(-90)`)
    .attr("text-anchor", "middle").attr("font-size", 15).attr("fill", "#000")
    .text("Count");
  g.append("text")
    .attr("x", (LEFT + RIGHT) / 2).attr("y", 1472)
    .attr("text-anchor", "middle").attr("font-size", 20).attr("fill", "#000")
    .text("Fight time (seconds)");

  const lg = g.append("g");
  lg.append("rect").attr("x", 100).attr("y", 1113).attr("width", 321).attr("height", 95).attr("rx", 3)
    .attr("fill", "#fff").attr("fill-opacity", 0.8).attr("stroke", "#cccccc").attr("stroke-width", 1);
  const legendStyles = [
    { color: "#ff0000", opacity: 0.75, dash: null },
    { color: "#0000ff", opacity: 0.75, dash: null },
    { color: "#ff0000", opacity: 0.6, dash: "2.8,4.5" },
    { color: "#0000ff", opacity: 0.6, dash: "2.8,4.5" }
  ];
  COUNT_LEGEND.forEach((label, k) => {
    const yy = 1126.7 + k * 22.2;
    lg.append("line").attr("x1", 105).attr("x2", 136).attr("y1", yy).attr("y2", yy)
      .attr("stroke", legendStyles[k].color).attr("stroke-opacity", legendStyles[k].opacity)
      .attr("stroke-width", 2.8).attr("stroke-dasharray", legendStyles[k].dash);
    lg.append("text").attr("x", 146.7).attr("y", yy).attr("dy", "0.36em")
      .attr("font-size", 14).attr("fill", "#000").text(label);
  });
}
</script>
</body>
</html>
